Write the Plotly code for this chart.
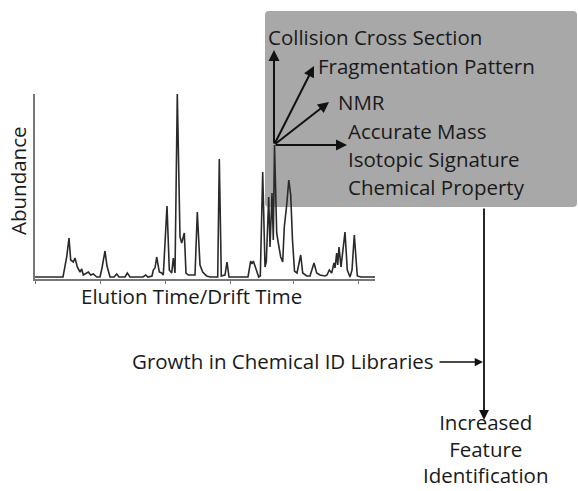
import plotly.graph_objects as go

W, H = 578, 491

# Chromatogram vertices (arbitrary units)
elution_time = [0, 28, 31.7, 34, 35.7, 38.3, 40, 42.3, 45, 46.7, 48.3, 51.7, 53.3, 55.7, 58.3, 61.7,
                65, 67, 70, 72, 75, 79, 81.7, 84, 90, 92.3, 95, 108, 110.7, 113, 117, 118.3, 120,
                121.7, 124.3, 126.7, 128.3, 132, 134.3, 136.7, 138.3, 140, 142.3, 145, 146.7, 149.3,
                151, 153.3, 160, 162.3, 165, 167.7, 171.7, 175, 182.7, 184.3, 186.3, 190, 192, 194,
                213, 215.7, 217, 218.3, 220, 221.7, 223.7, 225.3, 227.7, 230, 231.3, 233.7, 235, 237,
                238.3, 239.5, 241.7, 243.3, 245.7, 247.7, 249.3, 251.7, 253.8, 255.7, 257.5, 259.5,
                262, 265.7, 267.7, 271.7, 275, 279, 281.7, 285, 290, 292, 294.3, 296.7, 299, 300,
                301.7, 302.7, 304, 306, 308.3, 310, 312.3, 315, 317, 319.3, 322.3, 326, 340]
abundance = [2, 2, 22, 41, 19, 17, 21, 12, 7, 10, 4, 6, 7, 4, 5, 2,
             2, 11, 28, 13, 2, 2, 5, 2, 2, 6, 2, 2, 4, 2, 3, 9, 11,
             22, 7, 6, 4, 73, 9, 6, 21, 6, 185, 42, 36, 46,
             6, 4, 4, 67, 14, 7, 3, 2, 2, 120, 3, 4, 17, 2,
             2, 18, 15, 18, 13, 9, 2, 3, 107, 12, 17, 82, 32, 86,
             39, 134, 46, 36, 22, 17, 52, 74, 99, 84, 39, 8,
             6, 24, 6, 3, 3, 16, 6, 4, 3, 4, 9, 6, 16, 11,
             26, 14, 32, 12, 36, 47, 9, 2, 9, 44, 3, 2, 2]
time_ticks = [0, 65, 130, 195, 258, 323]

vector_labels = ["Collision Cross Section", "Fragmentation Pattern", "NMR",
                 "Accurate Mass", "Isotopic Signature", "Chemical Property"]
library_label = "Growth in Chemical ID Libraries"
result_lines = ["Increased", "Feature", "Identification"]


def px(x):
    return x / W


def py(y):
    return 1 - y / H


FONT = "Open Sans"
FS = 20.5
TXT = "#1a1a1a"

fig = go.Figure()
fig.add_trace(go.Scatter(x=elution_time, y=abundance, mode="lines",
                         line=dict(color="#2a2a2a", width=1.6), hoverinfo="skip",
                         showlegend=False))

# gray rounded box
x0, y0, x1, y1, r = px(265), py(11), px(577), py(207), 4
rx, ry = r / W, r / H
path = (f"M {x0+rx},{y0} L {x1-rx},{y0} Q {x1},{y0} {x1},{y0-ry} "
        f"L {x1},{y1+ry} Q {x1},{y1} {x1-rx},{y1} L {x0+rx},{y1} "
        f"Q {x0},{y1} {x0},{y1+ry} L {x0},{y0-ry} Q {x0},{y0} {x0+rx},{y0} Z")
shapes = [dict(type="path", path=path, xref="paper", yref="paper",
               fillcolor="#a8a8a8", line=dict(width=0), layer="below")]

annotations = []

# arrows from origin
ox, oy = 274, 145
tips = [(274, 50), (314, 66), (329, 102), (347, 145)]
for tx, ty in tips:
    annotations.append(dict(x=px(tx), y=py(ty), xref="paper", yref="paper",
                            ax=ox - tx, ay=oy - ty, text="", showarrow=True,
                            arrowhead=2, arrowsize=1.1, arrowwidth=2, arrowcolor="#111"))

# vector labels
label_pos = [(266, 37), (316, 66), (336, 102), (346, 131), (346, 159), (346, 187)]
for lab, (lx, ly) in zip(vector_labels, label_pos):
    annotations.append(dict(x=px(lx), y=py(ly), xref="paper", yref="paper", text=lab,
                            showarrow=False, xanchor="left", yanchor="middle",
                            font=dict(family=FONT, size=FS, color=TXT)))

# vertical arrow from box to result
annotations.append(dict(x=px(484), y=py(420), xref="paper", yref="paper",
                        ax=0, ay=207 - 420, text="", showarrow=True,
                        arrowhead=2, arrowsize=1.1, arrowwidth=1.8, arrowcolor="#111"))
# horizontal library arrow
annotations.append(dict(x=px(483), y=py(362), xref="paper", yref="paper",
                        ax=438 - 483, ay=0, text="", showarrow=True,
                        arrowhead=2, arrowsize=1.1, arrowwidth=1.5, arrowcolor="#111"))
annotations.append(dict(x=px(436), y=py(361), xref="paper", yref="paper", text=library_label,
                        showarrow=False, xanchor="right", yanchor="middle",
                        font=dict(family=FONT, size=FS, color=TXT)))
annotations.append(dict(x=px(486), y=py(490), xref="paper", yref="paper",
                        text="<br>".join(result_lines), showarrow=False,
                        xanchor="center", yanchor="bottom", align="center", borderpad=0,
                        font=dict(family=FONT, size=FS, color=TXT)))

# axis titles
annotations.append(dict(x=px(18), y=py(181), xref="paper", yref="paper", text="Abundance",
                        showarrow=False, textangle=-90, xanchor="center", yanchor="middle",
                        font=dict(family=FONT, size=FS, color=TXT)))
annotations.append(dict(x=px(191), y=py(296), xref="paper", yref="paper",
                        text="Elution Time/Drift Time", showarrow=False,
                        xanchor="center", yanchor="middle",
                        font=dict(family=FONT, size=FS, color=TXT)))

fig.update_layout(
    width=W, height=H, margin=dict(l=0, r=0, t=0, b=0),
    paper_bgcolor="white", plot_bgcolor="rgba(0,0,0,0)",
    shapes=shapes, annotations=annotations, showlegend=False,
    xaxis=dict(domain=[px(35), px(375)], range=[0, 340], showgrid=False, zeroline=False,
               showline=True, linecolor="#777", linewidth=1.5, ticks="outside",
               tickvals=time_ticks, ticklen=3, tickcolor="#777", tickwidth=1,
               showticklabels=False, fixedrange=True),
    yaxis=dict(domain=[py(279), py(94)], range=[0, 185], showgrid=False, zeroline=False,
               showline=True, linecolor="#777", linewidth=1.5, ticks="",
               showticklabels=False, fixedrange=True),
)

fig.write_html("out.html", config={"displayModeBar": False},
               post_script="document.body.style.margin='0';document.body.style.overflow='hidden';")
